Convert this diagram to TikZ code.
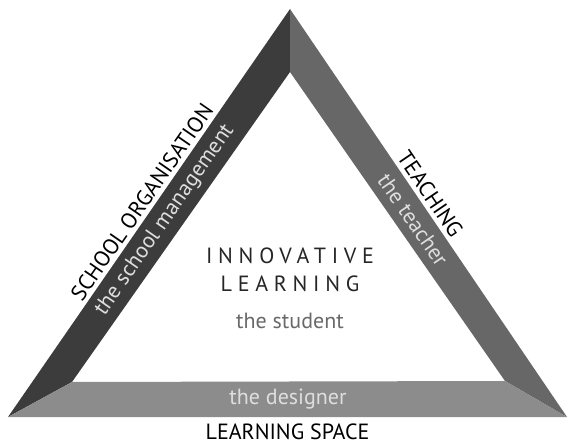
\documentclass[tikz,border=0pt]{standalone}
\usepackage{fontspec}
\setmainfont{PT Sans}
\usepackage{xcolor}
\definecolor{leftband}{RGB}{60,60,60}
\definecolor{rightband}{RGB}{103,103,103}
\definecolor{baseband}{RGB}{140,140,140}
\definecolor{bandtext}{RGB}{222,222,222}
\definecolor{titletext}{RGB}{38,38,38}
\definecolor{studenttext}{RGB}{105,105,105}
\usepackage{tikz}
\usetikzlibrary{calc}
\newcommand{\labelsize}{\fontsize{22}{23}\selectfont}
\newcommand{\spaced}[1]{{\addfontfeatures{LetterSpace=26}#1}}
\tikzset{
    sidelabel/.style={font=\labelsize, text=black, inner sep=0pt},
    bandlabel/.style={font=\labelsize, text=bandtext, inner sep=0pt},
    centrelabel/.style={font=\labelsize, text=titletext, inner sep=0pt, anchor=base},
    band/.style={draw=none}
}

\begin{document}
\begin{tikzpicture}[x=1pt, y=1pt]
              \useasboundingbox (0,0) rectangle (570,445);

              \coordinate (top) at (290,436);
              \coordinate (left) at (8,28);
              \coordinate (right) at (567,28);
              \coordinate (top-in) at (290,373);
              \coordinate (left-in) at (72,63);
              \coordinate (right-in) at (505,64);
              \coordinate (top-mid) at ($(top)!0.5!(top-in)$);
              \coordinate (left-mid) at ($(left)!0.5!(left-in)$);
              \coordinate (right-mid) at ($(right)!0.5!(right-in)$);

              \fill[band, leftband] (top) -- (left) -- (left-in) -- (top-in) -- cycle;
              \fill[band, rightband] (top) -- (top-in) -- (right-in) -- (right) -- cycle;
              \fill[band, baseband] (left) -- (right) -- (right-in) -- (left-in) -- cycle;

              \path (left) -- (top)
                node[sidelabel, pos=0.51, sloped, above=4pt] (school) {SCHOOL ORGANISATION};
              \path (left-mid) -- (top-mid)
                node[bandlabel, pos=0.5, sloped] (management) {the school management};

              \path (top) -- (right)
                node[sidelabel, pos=0.47, sloped, above=4pt] (teaching) {TEACHING};
              \path (top-mid) -- (right-mid)
                node[bandlabel, pos=0.5, sloped] (teacher) {the teacher};

              \path (left-mid) -- (right-mid)
                node[bandlabel, midway] (designer) {the designer};
              \path (left) -- (right)
                node[sidelabel, midway, below=7pt] (space) {LEARNING SPACE};

              \path (290,182) node[centrelabel] (innovative) {\spaced{INNOVATIVE}}
                ++(0,-28) node[centrelabel] (learning) {\spaced{LEARNING}}
                ++(0,-37) node[centrelabel, text=studenttext] (student) {the student};
            \end{tikzpicture}
\end{document}
